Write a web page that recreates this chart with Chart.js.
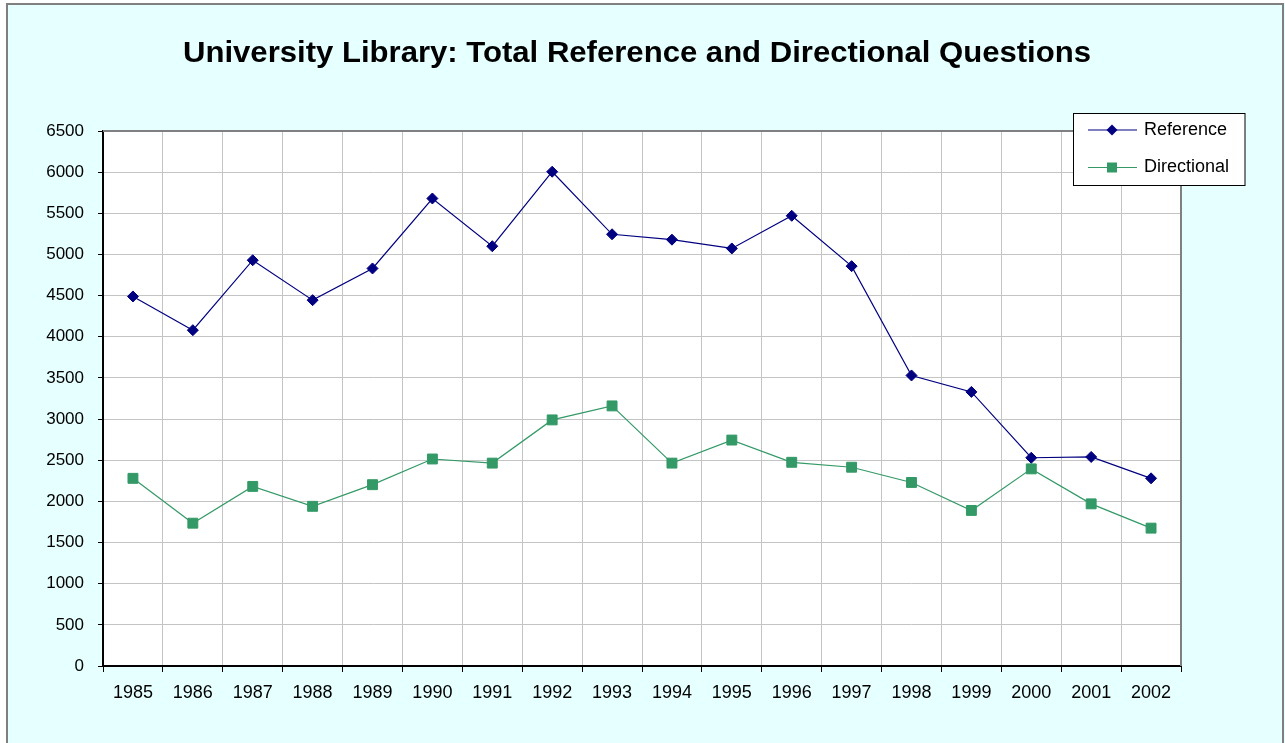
<!DOCTYPE html>
<html>
<head>
<meta charset="utf-8">
<script src="https://cdn.jsdelivr.net/npm/chart.js@4/dist/chart.umd.min.js"></script>
<style>
  html, body { margin: 0; padding: 0; background: #ffffff; }
  #wrap { width: 1285px; height: 743px; position: relative; }
</style>
</head>
<body>
<div id="wrap"><canvas id="c" width="1285" height="743"></canvas></div>
<script>
const years = ['1985','1986','1987','1988','1989','1990','1991','1992','1993','1994','1995','1996','1997','1998','1999','2000','2001','2002'];
const reference = [4490, 4080, 4930, 4445, 4830, 5680, 5100, 6005, 5245, 5180, 5073, 5470, 4858, 3530, 3330, 2530, 2540, 2280];
const directional = [2280, 1735, 2182, 1940, 2203, 2515, 2465, 2990, 3160, 2465, 2745, 2475, 2415, 2230, 1890, 2395, 1970, 1675];
const titleText = 'University Library: Total Reference and Directional Questions';
const seriesNames = ['Reference', 'Directional'];
const yMin = 0, yMax = 6500, yStep = 500;

const navy = '#000080';
const green = '#339966';

const framePlugin = {
  id: 'frame',
  beforeDraw(chart) {
    const ctx = chart.ctx;
    const a = chart.chartArea;
    ctx.save();
    ctx.fillStyle = '#ffffff';
    ctx.fillRect(0, 0, chart.width, chart.height);
    ctx.fillStyle = '#E6FFFF';
    ctx.fillRect(6, 3, chart.width - 6, chart.height);
    ctx.strokeStyle = '#7f7f7f';
    ctx.lineWidth = 2;
    ctx.strokeRect(7, 4, chart.width - 9, chart.height + 10);
    ctx.fillStyle = '#ffffff';
    ctx.fillRect(a.left, a.top, a.right - a.left, a.bottom - a.top);
    ctx.restore();
  },
  afterDraw(chart) {
    const ctx = chart.ctx;
    const a = chart.chartArea;
    ctx.save();
    // plot border top & right
    ctx.strokeStyle = '#808080';
    ctx.lineWidth = 2;
    ctx.beginPath();
    ctx.moveTo(a.left, a.top);
    ctx.lineTo(a.right, a.top);
    ctx.lineTo(a.right, a.bottom);
    ctx.stroke();

    // title
    ctx.font = 'bold 29px "Liberation Sans", Arial, sans-serif';
    ctx.fillStyle = '#000000';
    ctx.textBaseline = 'alphabetic';
    ctx.textAlign = 'center';
    const w = ctx.measureText(titleText).width;
    const sx = 908 / w;
    ctx.save();
    ctx.translate(637, 62);
    ctx.scale(sx, 1);
    ctx.fillText(titleText, 0, 0);
    ctx.restore();

    // legend
    const lx = 1073.5, ly = 113.5, lw = 171.5, lh = 72;
    ctx.fillStyle = '#ffffff';
    ctx.fillRect(lx, ly, lw, lh);
    ctx.strokeStyle = '#000000';
    ctx.lineWidth = 1;
    ctx.strokeRect(lx, ly, lw, lh);
    const rows = [
      { name: seriesNames[0], color: navy, y: 130, shape: 'diamond' },
      { name: seriesNames[1], color: green, y: 167.5, shape: 'square' }
    ];
    rows.forEach(r => {
      ctx.strokeStyle = r.color;
      ctx.lineWidth = 1.2;
      ctx.beginPath();
      ctx.moveTo(1088, r.y);
      ctx.lineTo(1137, r.y);
      ctx.stroke();
      ctx.fillStyle = r.color;
      ctx.beginPath();
      if (r.shape === 'diamond') {
        ctx.moveTo(1112, r.y - 5.5);
        ctx.lineTo(1117.5, r.y);
        ctx.lineTo(1112, r.y + 5.5);
        ctx.lineTo(1106.5, r.y);
        ctx.closePath();
      } else {
        ctx.rect(1107, r.y - 5, 10, 10);
      }
      ctx.fill();
      ctx.fillStyle = '#000000';
      ctx.font = '18px "Liberation Sans", Arial, sans-serif';
      ctx.textAlign = 'left';
      ctx.textBaseline = 'middle';
      ctx.fillText(r.name, 1144, r.y);
    });
    ctx.restore();
  }
};

new Chart(document.getElementById('c'), {
  type: 'line',
  data: {
    labels: years,
    datasets: [
      {
        label: seriesNames[0],
        data: reference,
        borderColor: navy,
        backgroundColor: navy,
        borderWidth: 1.2,
        pointStyle: 'rectRot',
        pointRadius: 5.5,
        pointHoverRadius: 5.5,
        pointBorderWidth: 1,
        tension: 0
      },
      {
        label: seriesNames[1],
        data: directional,
        borderColor: green,
        backgroundColor: green,
        borderWidth: 1.2,
        pointStyle: 'rect',
        pointRadius: 7,
        pointHoverRadius: 7,
        pointBorderWidth: 1,
        tension: 0
      }
    ]
  },
  options: {
    responsive: false,
    animation: false,
    devicePixelRatio: 1,
    layout: { padding: { top: 131, right: 104, bottom: 0, left: 0 } },
    plugins: {
      legend: { display: false },
      title: { display: false },
      tooltip: { enabled: false }
    },
    scales: {
      x: {
        type: 'category',
        offset: true,
        grid: {
          offset: true,
          color: '#c4c4c4',
          lineWidth: 1,
          tickLength: 6,
          tickColor: '#000000',
          drawTicks: true
        },
        border: { color: '#000000', width: 2 },
        ticks: {
          color: '#000000',
          font: { family: '"Liberation Sans", Arial, sans-serif', size: 18 },
          padding: 10,
          maxRotation: 0,
          autoSkip: false
        },
        afterFit(scale) { scale.height = 77; }
      },
      y: {
        min: yMin,
        max: yMax,
        grid: {
          color: '#c4c4c4',
          lineWidth: 1,
          tickLength: 5,
          tickColor: '#000000'
        },
        border: { color: '#000000', width: 2 },
        ticks: {
          stepSize: yStep,
          color: '#000000',
          font: { family: '"Liberation Sans", Arial, sans-serif', size: 17 },
          padding: 14,
          callback: (v) => String(v)
        },
        afterFit(scale) { scale.width = 103; }
      }
    }
  },
  plugins: [framePlugin]
});
</script>
</body>
</html>
